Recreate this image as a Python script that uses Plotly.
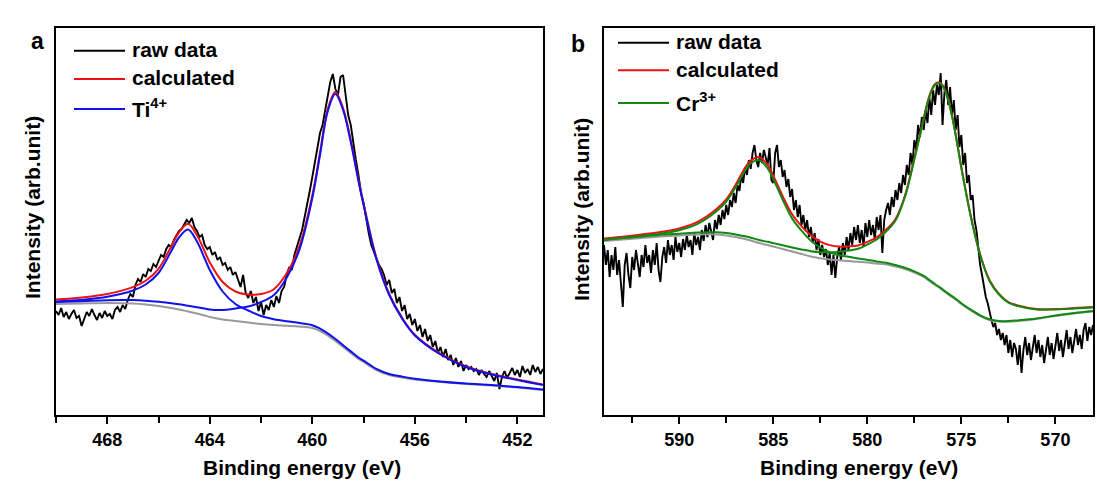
import numpy as np
import plotly.graph_objects as go

W, H = 1097, 482
FONT = "Liberation Sans"

# ---------------- Panel a : Ti 2p ----------------
# raw data, scan grid 470.0 -> 451.0 eV, step 0.1 eV
a_raw_start, a_raw_step = 470.0, -0.1
a_raw = [
    104, 100, 107, 98, 103, 96, 101, 105, 97, 99,
    89, 96, 103, 99, 106, 100, 95, 102, 97, 104,
    99, 101, 96, 105, 108, 103, 110, 106, 115, 121,
    118, 130, 136, 133, 141, 138, 146, 144, 151, 148,
    155, 160, 158, 166, 170, 168, 175, 180, 184, 186,
    190, 195, 192, 197, 188, 184, 178, 180, 170, 166,
    168, 160, 163, 155, 158, 150, 152, 145, 148, 140,
    143, 136, 128, 140, 122, 117, 124, 112, 118, 104,
    113, 100, 110, 105, 115, 108, 119, 112, 124, 128,
    140, 148, 145, 160, 168, 175, 185, 198, 210, 224,
    238, 252, 268, 282, 290, 305, 318, 333, 341, 326,
    320, 338, 340, 318, 300, 290, 270, 255, 240, 222,
    212, 196, 182, 170, 163, 158, 150, 146, 140, 130,
    135, 122, 126, 112, 118, 104, 110, 96, 101, 90,
    96, 84, 90, 78, 86, 74, 80, 68, 74, 62,
    68, 58, 66, 55, 60, 50, 57, 48, 54, 44,
    50, 46, 48, 44, 46, 40, 45, 41, 38, 44,
    39, 34, 42, 26, 38, 44, 37, 42, 47, 40,
    45, 38, 49, 42, 46, 40, 50, 43, 48, 41,
    46,
]
a_fit_x = [470, 469, 468, 467, 466.5, 466, 465.5, 465.2, 464.85, 464.5, 464.2, 464,
           463.5, 463, 462.5, 462, 461.5, 461, 460.5, 460, 459.7, 459.4, 459.1, 458.8,
           458.5, 458.2, 458, 457.5, 457, 456.5, 456, 455, 454, 453, 452, 451]
a_background = [111, 111.5, 112, 111.5, 110.5, 109, 107, 105.5, 103.5, 101.5, 99.5, 98,
                95.5, 94, 92.5, 91, 90, 89.3, 88.5, 87, 84, 79.5, 74, 68,
                62, 56, 53, 45, 40, 37.5, 35.5, 33, 31, 29.5, 27.5, 25]
a_calculated = [115.4, 117.5, 121, 127.9, 134.3, 146.2, 168.8, 182.7, 191.2, 179.8, 163.5, 152.5,
                133, 123.5, 120.5, 121, 125.8, 141.7, 169, 219.8, 262.4, 305.7, 323, 306.8,
                274.6, 235.5, 211.4, 157.2, 121, 97.4, 80.3, 61.2, 48.6, 41, 35.4, 30.4]
a_ti_2p12 = [113.4, 115.2, 118.2, 124.5, 130.5, 142, 164, 177.5, 185.5, 173.5, 156.5, 145,
             123.5, 111, 104.5, 99, 95.8, 93.7, 92, 89.8, 86.4, 81.7, 76, 69.8,
             63.6, 57.5, 54.4, 46.2, 41, 38.4, 36.3, 33.6, 31.5, 30, 27.9, 25.4]
a_ti_2p32 = [113, 113.8, 114.8, 114.9, 114.3, 113.2, 111.8, 110.7, 109.2, 107.8, 106.5, 105.5,
             105, 106.5, 108.5, 113, 120, 137.3, 165.5, 217, 260, 303.5, 321, 305,
             273, 234, 210, 156, 120, 96.5, 79.5, 60.5, 48, 40.5, 35, 30]
a_ticks = [468, 464, 460, 456, 452]

# ---------------- Panel b : Cr 2p ----------------
b_raw_start, b_raw_step = 594.0, -0.1
b_raw = [
    170, 150, 165, 138, 160, 145, 168, 140, 155, 130,
    108, 150, 162, 140, 127, 158, 145, 165, 150, 138,
    160, 148, 170, 152, 160, 142, 165, 150, 172, 145,
    133, 158, 168, 152, 175, 160, 170, 155, 178, 163,
    172, 158, 176, 165, 180, 168, 175, 160, 182, 170,
    178, 165, 185, 174, 190, 178, 192, 183, 175, 195,
    186, 200, 190, 205, 196, 210, 200, 215, 208, 222,
    212, 230, 224, 240, 232, 248, 240, 255, 246, 262,
    270, 255, 248, 262, 252, 265, 258, 250, 267, 235,
    232, 262, 270, 248, 255, 238, 245, 228, 236, 218,
    226, 205, 215, 198, 210, 190, 200, 185, 195, 178,
    188, 172, 182, 165, 176, 160, 170, 158, 166, 150,
    162, 140, 160, 137, 158, 168, 155, 172, 160, 178,
    165, 182, 170, 188, 175, 190, 172, 185, 168, 192,
    178, 195, 180, 190, 175, 198, 185, 200, 162, 195,
    205, 212, 200, 218, 208, 225, 215, 232, 222, 240,
    230, 250, 240, 262, 250, 275, 265, 290, 278, 298,
    285, 305, 292, 318, 300, 325, 310, 330, 320, 342,
    290, 322, 335, 310, 328, 300, 315, 285, 300, 268,
    280, 250, 262, 232, 240, 215, 220, 195, 185, 168,
    150, 140, 128, 118, 112, 102, 95, 88, 92, 80,
    86, 75, 82, 70, 80, 62, 75, 58, 72, 66,
    50, 70, 42, 65, 78, 60, 72, 55, 68, 80,
    62, 75, 58, 70, 52, 68, 78, 60, 72, 56,
    70, 82, 64, 75, 58, 72, 85, 66, 78, 62,
    74, 86, 70, 80, 66, 85, 92, 74, 88, 80,
    90,
]
b_fit_x = [594, 593, 592, 591, 590, 589, 588, 587.5, 587, 586.5, 586.2, 585.76, 585.3, 585,
           584.5, 584, 583.5, 583, 582.5, 582, 581.5, 581, 580.5, 580, 579.5, 579, 578.5,
           578, 577.5, 577, 576.7, 576.4, 576.12, 575.8, 575.5, 575.2, 575, 574.5, 574,
           573.5, 573, 572.5, 572, 571, 570, 569, 568]
b_background = [174, 175.5, 177, 178.5, 179.5, 180.5, 180.5, 179.5, 178, 176, 174.5, 172, 170, 168.5,
                166, 163.5, 161, 158.5, 156.8, 155.5, 154.7, 154, 153.2, 152.5, 151.5, 150.5, 148.5,
                146, 142.5, 138, 134, 130, 126.5, 122, 118, 114, 111, 104.5, 99,
                95, 93.5, 93.3, 94, 96, 99, 101.5, 103.5]
b_calculated = [176.4, 178.3, 180.5, 183, 186.5, 193.3, 206.2, 215.6, 230.2, 247.2, 254.5, 258, 249.9, 239.4,
                218.9, 200.7, 188.9, 179.6, 173.4, 169.9, 168.4, 168.7, 169.5, 173.1, 177.6, 185.3, 196,
                219.3, 256.7, 297.1, 319, 331, 332.4, 321.9, 299.9, 269.8, 247.8, 199.3, 160.7,
                134.7, 121.1, 112.9, 109.6, 106, 106, 106.9, 107.9]
b_cr_2p12 = [175.1, 176.9, 179, 181.3, 184.7, 191.3, 204, 213.3, 227.7, 244.5, 251.7, 255, 246.7, 236,
             215.2, 196.6, 184.3, 174.3, 167.4, 162.7, 159.8, 158.2, 156.5, 155.1, 153.6, 152.3, 150,
             147.3, 143.7, 139.1, 135, 131, 127.4, 122.9, 118.9, 114.8, 111.8, 105.3, 99.7,
             95.7, 94.1, 93.9, 94.6, 96.5, 99.5, 101.9, 103.9]
b_cr_2p32 = [175.3, 176.9, 178.5, 180.2, 181.3, 182.5, 182.7, 181.9, 180.5, 178.7, 177.3, 175, 173.2, 171.9,
             169.7, 167.6, 165.6, 163.8, 162.8, 162.7, 163.3, 164.5, 166.2, 170.5, 175.5, 183.5, 194.5,
             218, 255.5, 296, 318, 330, 331.5, 321, 299, 269, 247, 198.5, 160,
             134, 120.5, 112.3, 109, 105.5, 105.5, 106.5, 107.5]
b_ticks = [590, 585, 580, 575, 570]

a_raw_x = np.round(a_raw_start + a_raw_step * np.arange(len(a_raw)), 2)
b_raw_x = np.round(b_raw_start + b_raw_step * np.arange(len(b_raw)), 2)

RED, BLUE, GREEN, GRAY = "#ee1111", "#1111ee", "#118811", "#999999"

fig = go.Figure()


def add_panel(xr, yr, xf, bg, calc, c1, c2, ccol, cname, xa, ya):
    fig.add_trace(go.Scatter(x=xr, y=yr, mode="lines", name="raw data",
                             line=dict(color="black", width=1.9), xaxis=xa, yaxis=ya, showlegend=False))
    fig.add_trace(go.Scatter(x=xf, y=bg, mode="lines", name="background", line_shape="spline",
                             line=dict(color=GRAY, width=2), xaxis=xa, yaxis=ya, showlegend=False))
    fig.add_trace(go.Scatter(x=xf, y=calc, mode="lines", name="calculated", line_shape="spline",
                             line=dict(color=RED, width=2), xaxis=xa, yaxis=ya, showlegend=False))
    fig.add_trace(go.Scatter(x=xf, y=c1, mode="lines", name=cname, line_shape="spline",
                             line=dict(color=ccol, width=2), xaxis=xa, yaxis=ya, showlegend=False))
    fig.add_trace(go.Scatter(x=xf, y=c2, mode="lines", name=cname, line_shape="spline",
                             line=dict(color=ccol, width=2), xaxis=xa, yaxis=ya, showlegend=False))


add_panel(a_raw_x, a_raw, a_fit_x, a_background, a_calculated, a_ti_2p12, a_ti_2p32, BLUE, "Ti4+", "x", "y")
add_panel(b_raw_x, b_raw, b_fit_x, b_background, b_calculated, b_cr_2p12, b_cr_2p32, GREEN, "Cr3+", "x2", "y2")


def px(x):
    return x / W


def py(y):
    return 1 - y / H


tickfont = dict(family=FONT, size=18, color="black", weight="bold")
common_x = dict(showline=True, mirror=True, linecolor="black", linewidth=2, ticks="outside",
                ticklen=7, tickwidth=2, tickcolor="black", showgrid=False, zeroline=False,
                tickfont=tickfont, automargin=False)
common_y = dict(showline=True, mirror=True, linecolor="black", linewidth=2, ticks="",
                showticklabels=False, showgrid=False, zeroline=False, range=[0, 387],
                domain=[py(415), py(28)], automargin=False)

fig.update_layout(
    width=W, height=H, margin=dict(l=0, r=0, t=0, b=0),
    paper_bgcolor="white", plot_bgcolor="white",
    font=dict(family=FONT, color="black"),
    xaxis=dict(domain=[px(56), px(543)], range=[470, 451], anchor="y",
               tickvals=a_ticks, minor=dict(dtick=2, tick0=452, ticks="outside", ticklen=6,
                                            tickwidth=2, tickcolor="black"), **common_x),
    yaxis=dict(anchor="x", **common_y),
    xaxis2=dict(domain=[px(604), px(1093)], range=[594, 568], anchor="y2",
                tickvals=b_ticks, minor=dict(dtick=2.5, tick0=570, ticks="outside", ticklen=6,
                                             tickwidth=2, tickcolor="black"), **common_x),
    yaxis2=dict(anchor="x2", **common_y),
)

ann = []
txt = dict(family=FONT, color="black", weight="bold")
base = dict(xref="paper", yref="paper", showarrow=False, xanchor="center", yanchor="middle")
# panel letters
ann.append(dict(text="a", x=px(37), y=py(41), font=dict(size=23, **txt), **base))
ann.append(dict(text="b", x=px(578), y=py(44), font=dict(size=23, **txt), **base))
# axis titles
for cx in (302, 859):
    ann.append(dict(text="Binding energy (eV)", x=px(cx), y=py(467),
                    font=dict(size=21, **txt), **base))
for cx, cy in ((32, 208), (581, 210)):
    ann.append(dict(text="Intensity (arb.unit)", x=px(cx), y=py(cy), textangle=-90,
                    font=dict(size=21, **txt), **base))

# legends
shapes = []
leg_a = [("raw data", "black", 50.7), ("calculated", RED, 79), ("Ti<sup>4+</sup>", BLUE, 109)]
leg_b = [("raw data", "black", 42.7), ("calculated", RED, 70.3), ("Cr<sup>3+</sup>", GREEN, 103)]
for items, x0, x1, tx in ((leg_a, 74, 125, 130), (leg_b, 618, 669, 674)):
    for label, col, yy in items:
        shapes.append(dict(type="line", xref="paper", yref="paper", x0=px(x0), x1=px(x1),
                           y0=py(yy), y1=py(yy), line=dict(color=col, width=2)))
        ann.append(dict(text=label, x=px(tx), y=py(yy - 1), xref="paper", yref="paper",
                        xanchor="left", yanchor="middle", showarrow=False,
                        font=dict(size=21, **txt)))

fig.update_layout(annotations=ann, shapes=shapes)
fig.write_html("out.html")
